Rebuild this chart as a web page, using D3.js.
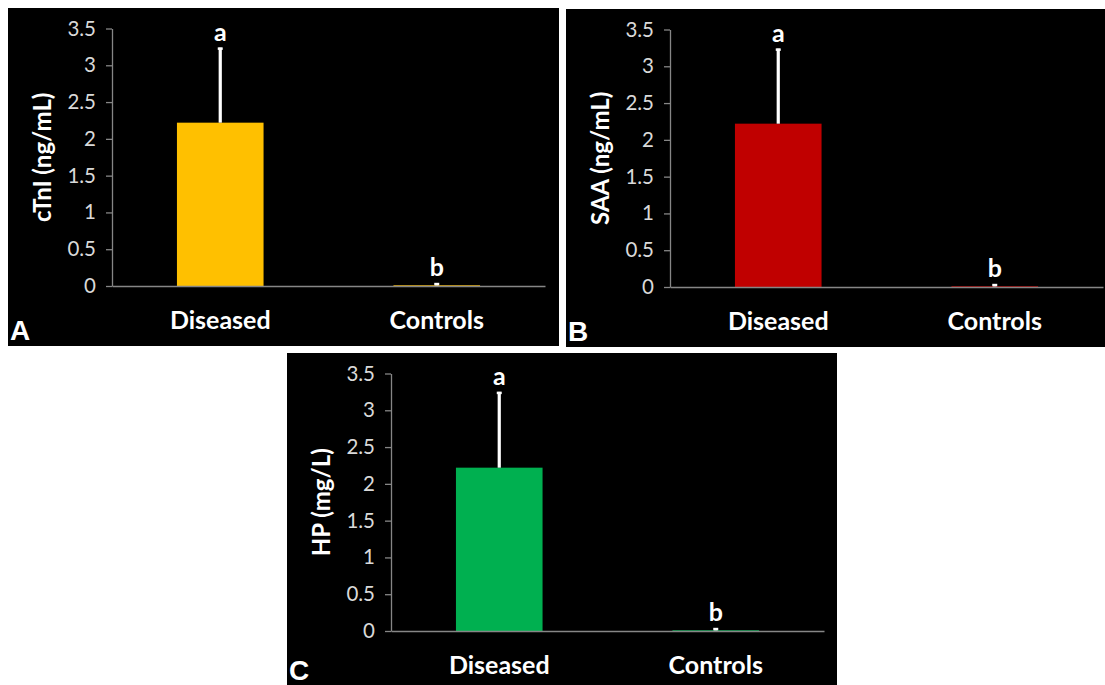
<!DOCTYPE html>
<html>
<head>
<meta charset="utf-8">
<script src="https://cdn.jsdelivr.net/npm/d3@7"></script>
<style>
  html, body { margin: 0; padding: 0; background: #ffffff; }
  svg { display: block; }
</style>
</head>
<body>
<svg id="chart" width="1105" height="685"></svg>
<script>
// ---- data ----
const categories = ["Diseased", "Controls"];
const yTicks = [0, 0.5, 1, 1.5, 2, 2.5, 3, 3.5];

const cTnIMeans = [2.22, 0.01];
const cTnIErrors = [1.02, 0.03];
const cTnILetters = ["a", "b"];

const saaMeans = [2.22, 0.01];
const saaErrors = [1.02, 0.03];
const saaLetters = ["a", "b"];

const hpMeans = [2.22, 0.01];
const hpErrors = [1.03, 0.03];
const hpLetters = ["a", "b"];

const panelLabels = ["A", "B", "C"];
const yTitles = ["cTnI (ng/mL)", "SAA (ng/mL)", "HP (mg/L)"];
const barColors = ["#FFC000", "#C00000", "#00B050"];

// ---- layout ----
const panels = [
  { x: 8,   y: 8,   w: 551, h: 338, lab: 332, means: cTnIMeans, errs: cTnIErrors, letters: cTnILetters },
  { x: 566, y: 9,   w: 551, h: 338, lab: 332, means: saaMeans,  errs: saaErrors,  letters: saaLetters },
  { x: 287, y: 353, w: 550, h: 340, lab: 327, means: hpMeans,   errs: hpErrors,   letters: hpLetters }
];

const svg = d3.select("#chart");
const FONT = "Lato, 'Open Sans', sans-serif";

panels.forEach((p, i) => {
  const g = svg.append("g").attr("transform", `translate(${p.x},${p.y})`);
  g.append("rect").attr("width", p.w).attr("height", p.h).attr("fill", "#000");

  const left = 104, top = 20.5, plotW = 433, plotH = 257.5;
  const plot = g.append("g").attr("transform", `translate(${left},${top})`);

  const y = d3.scaleLinear().domain([0, 3.5]).range([plotH, 0]);
  const x = d3.scaleBand().domain(categories).range([0, plotW])
    .paddingInner(0.6).paddingOuter(0.3);

  // y axis
  const yAxis = d3.axisLeft(y).tickValues(yTicks).tickSizeInner(6).tickSizeOuter(0)
    .tickPadding(10).tickFormat(d => String(d));
  const ya = plot.append("g").call(yAxis);
  ya.select(".domain").attr("stroke", "#868686").attr("stroke-width", 1.3);
  ya.selectAll(".tick line").attr("stroke", "#868686").attr("stroke-width", 1.3);
  ya.selectAll(".tick text").attr("fill", "#d9d9d9")
    .style("font-family", FONT).style("font-size", "20.5px");

  // bars
  plot.selectAll(".bar").data(categories).enter().append("rect")
    .attr("x", d => x(d))
    .attr("width", x.bandwidth())
    .attr("y", (d, j) => y(p.means[j]))
    .attr("height", (d, j) => Math.max(1.5, plotH - y(p.means[j])))
    .attr("fill", barColors[i]);

  // x axis line
  const xAxis = d3.axisBottom(x).tickSize(0).tickPadding(0).tickFormat("");
  const xa = plot.append("g").attr("transform", `translate(0,${plotH})`).call(xAxis);
  xa.select(".domain").attr("stroke", "#868686").attr("stroke-width", 1.3);

  // error bars (upper only)
  categories.forEach((c, j) => {
    const cx = x(c) + x.bandwidth() / 2;
    const yTop = y(p.means[j] + p.errs[j]);
    plot.append("line")
      .attr("x1", cx).attr("x2", cx)
      .attr("y1", y(p.means[j])).attr("y2", yTop)
      .attr("stroke", "#fff").attr("stroke-width", 3.2);
    plot.append("line")
      .attr("x1", cx - 2.5).attr("x2", cx + 2.5)
      .attr("y1", yTop + 1).attr("y2", yTop + 1)
      .attr("stroke", "#fff").attr("stroke-width", 2.5);
    plot.append("text")
      .attr("x", cx).attr("y", yTop - 7)
      .attr("text-anchor", "middle")
      .attr("fill", "#fff")
      .style("font-family", FONT).style("font-weight", "bold").style("font-size", "25px")
      .text(p.letters[j]);
  });

  // category labels
  plot.selectAll(".cat").data(categories).enter().append("text")
    .attr("x", d => x(d) + x.bandwidth() / 2)
    .attr("y", plotH + 43)
    .attr("text-anchor", "middle")
    .attr("fill", "#fff")
    .style("font-family", FONT).style("font-weight", "bold").style("font-size", "25px")
    .text(d => d);

  // y title
  g.append("text")
    .attr("transform", `translate(${43},${top + plotH / 2}) rotate(-90)`)
    .attr("text-anchor", "middle")
    .attr("fill", "#fff")
    .style("font-family", FONT).style("font-weight", "bold").style("font-size", "24px")
    .text(yTitles[i]);

  // panel label
  g.append("text")
    .attr("x", 2).attr("y", p.lab)
    .attr("fill", "#fff")
    .style("font-family", "'Liberation Sans', Arial, sans-serif")
    .style("font-weight", "bold").style("font-size", "28px")
    .text(panelLabels[i]);
});
</script>
</body>
</html>
